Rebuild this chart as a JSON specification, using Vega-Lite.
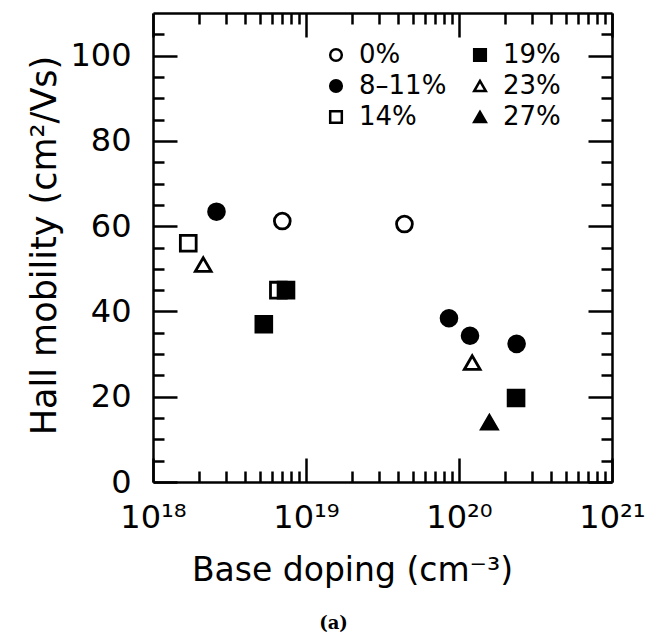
{
  "$schema": "https://vega.github.io/schema/vega-lite/v6.json",
  "autosize": "none",
  "width": 459,
  "height": 469,
  "padding": {"left": 153, "top": 13, "right": 41, "bottom": 156},
  "background": "white",
  "title": {"text": "(a)", "orient": "bottom", "anchor": "middle", "dx": -49, "offset": 28, "font": "DejaVu Serif", "fontSize": 18, "fontWeight": "bold", "color": "black"},
  "config": {
    "view": {"stroke": null},
    "axis": {"domainColor": "black", "domainWidth": 2.5, "tickColor": "black", "tickWidth": 2.5, "labelColor": "black", "titleColor": "black", "labelFont": "DejaVu Sans", "titleFont": "DejaVu Sans", "grid": false, "titleFontWeight": "normal"},
    "legend": {"labelFont": "DejaVu Sans", "labelColor": "black"}
  },
  "data": {"values": [
    {"doping": 1.7e18, "mobility": 56, "ge": "14%"},
    {"doping": 2.13e18, "mobility": 51, "ge": "23%"},
    {"doping": 2.6e18, "mobility": 63.4, "ge": "8–11%"},
    {"doping": 7.0e18, "mobility": 61.2, "ge": "0%"},
    {"doping": 6.6e18, "mobility": 45, "ge": "14%"},
    {"doping": 7.4e18, "mobility": 45, "ge": "19%"},
    {"doping": 5.3e18, "mobility": 37, "ge": "19%"},
    {"doping": 4.4e19, "mobility": 60.5, "ge": "0%"},
    {"doping": 8.6e19, "mobility": 38.4, "ge": "8–11%"},
    {"doping": 1.18e20, "mobility": 34.3, "ge": "8–11%"},
    {"doping": 2.38e20, "mobility": 32.4, "ge": "8–11%"},
    {"doping": 1.22e20, "mobility": 28, "ge": "23%"},
    {"doping": 2.36e20, "mobility": 19.7, "ge": "19%"},
    {"doping": 1.58e20, "mobility": 14, "ge": "27%"}
  ]},
  "resolve": {"axis": {"x": "independent", "y": "independent"}},
  "layer": [
    {
      "mark": {"type": "point", "filled": true, "strokeWidth": 2.8, "size": 250, "opacity": 1},
      "encoding": {
        "x": {"field": "doping", "type": "quantitative",
          "scale": {"type": "log", "domain": [1e18, 1e21], "nice": false},
          "axis": {"orient": "bottom", "title": "Base doping (cm⁻³)", "titleFontSize": 33, "titleX": 199, "titleY": 72, "titleAlign": "center", "titleBaseline": "top",
            "values": [1e18,2e18,3e18,4e18,5e18,6e18,7e18,8e18,9e18,1e19,2e19,3e19,4e19,5e19,6e19,7e19,8e19,9e19,1e20,2e20,3e20,4e20,5e20,6e20,7e20,8e20,9e20,1e21],
            "labelExpr": "datum.value == 1e18 ? '10¹⁸' : datum.value == 1e19 ? '10¹⁹' : datum.value == 1e20 ? '10²⁰' : datum.value == 1e21 ? '10²¹' : ''",
            "labelFontSize": 32, "labelPadding": 44, "labelFlush": false, "labelOverlap": false,
            "tickSize": {"condition": {"test": "abs(log(datum.value)/LN10 - round(log(datum.value)/LN10)) < 0.001", "value": -24}, "value": -11}}},
        "y": {"field": "mobility", "type": "quantitative",
          "scale": {"domain": [0, 110], "nice": false, "zero": true},
          "axis": {"orient": "left", "title": "Hall mobility (cm²/Vs)", "titleFontSize": 35, "titleX": -126, "titleY": 232, "titleAngle": 270, "titleAlign": "center", "titleBaseline": "top",
            "values": [0,5,10,15,20,25,30,35,40,45,50,55,60,65,70,75,80,85,90,95,100,105],
            "labelExpr": "datum.value % 20 == 0 ? datum.value : ''",
            "labelFontSize": 32, "labelPadding": 46, "labelOverlap": false, "labelFlush": false,
            "tickSize": {"condition": {"test": "datum.value % 20 == 0", "value": -24}, "value": -11}}},
        "shape": {"field": "ge", "type": "nominal",
          "scale": {"domain": ["0%", "19%", "8–11%", "23%", "14%", "27%"], "range": ["circle", "square", "circle", "triangle-up", "square", "triangle-up"]},
          "legend": {"title": null, "orient": "none", "legendX": 170, "legendY": 29, "columns": 2, "direction": "horizontal", "columnPadding": 20, "rowPadding": 5, "labelFontSize": 26, "symbolSize": 135, "symbolStrokeWidth": 2.5, "labelOffset": 10, "padding": 0}},
        "fill": {"field": "ge", "type": "nominal",
          "scale": {"domain": ["0%", "19%", "8–11%", "23%", "14%", "27%"], "range": ["white", "black", "black", "white", "white", "black"]},
          "legend": {"title": null, "orient": "none", "legendX": 170, "legendY": 29, "columns": 2, "direction": "horizontal", "columnPadding": 20, "rowPadding": 5, "labelFontSize": 26, "symbolSize": 135, "symbolStrokeWidth": 2.5, "labelOffset": 10, "padding": 0}},
        "stroke": {"field": "ge", "type": "nominal",
          "scale": {"domain": ["0%", "19%", "8–11%", "23%", "14%", "27%"], "range": ["black", "black", "black", "black", "black", "black"]},
          "legend": {"title": null, "orient": "none", "legendX": 170, "legendY": 29, "columns": 2, "direction": "horizontal", "columnPadding": 20, "rowPadding": 5, "labelFontSize": 26, "symbolSize": 135, "symbolStrokeWidth": 2.5, "labelOffset": 10, "padding": 0}}
      }
    },
    {
      "mark": {"type": "point", "opacity": 0},
      "encoding": {
        "x": {"field": "doping", "type": "quantitative",
          "scale": {"type": "log", "domain": [1e18, 1e21], "nice": false},
          "axis": {"orient": "top", "title": null, "labels": false,
            "values": [1e18,2e18,3e18,4e18,5e18,6e18,7e18,8e18,9e18,1e19,2e19,3e19,4e19,5e19,6e19,7e19,8e19,9e19,1e20,2e20,3e20,4e20,5e20,6e20,7e20,8e20,9e20,1e21],
            "tickSize": {"condition": {"test": "abs(log(datum.value)/LN10 - round(log(datum.value)/LN10)) < 0.001", "value": -24}, "value": -11}}},
        "y": {"field": "mobility", "type": "quantitative",
          "scale": {"domain": [0, 110], "nice": false, "zero": true},
          "axis": {"orient": "right", "title": null, "labels": false,
            "values": [0,5,10,15,20,25,30,35,40,45,50,55,60,65,70,75,80,85,90,95,100,105],
            "tickSize": {"condition": {"test": "datum.value % 20 == 0", "value": -24}, "value": -11}}}
      }
    }
  ]
}
